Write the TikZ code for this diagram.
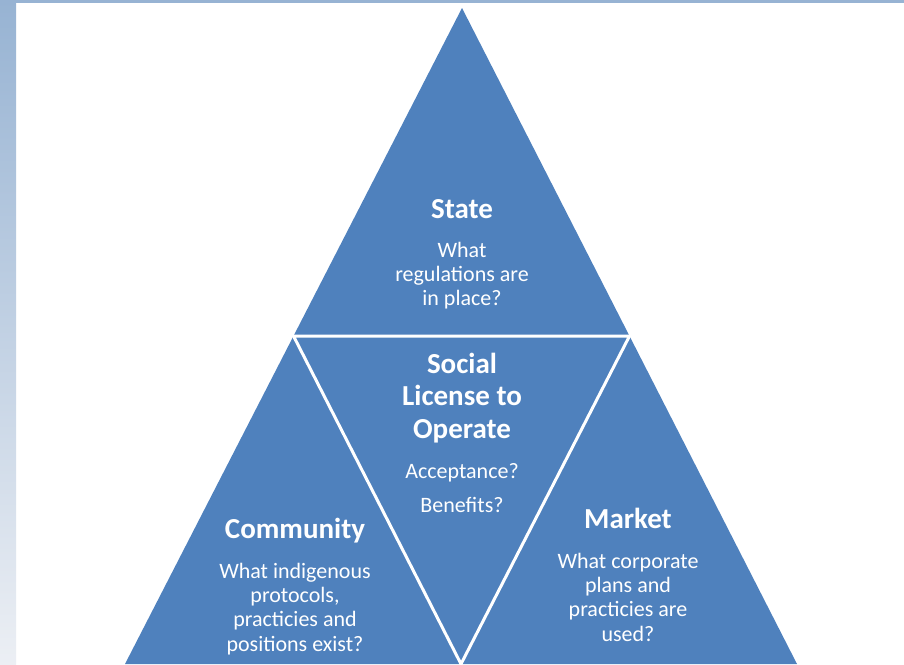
\documentclass[tikz,border=0pt]{standalone}
\usepackage{fontspec}
\setmainfont{Carlito}
\usetikzlibrary{positioning,calc}

\definecolor{slideblue}{rgb}{0.310, 0.506, 0.741}
\definecolor{framecolor}{rgb}{0.592, 0.702, 0.827}
\definecolor{framelight}{rgb}{0.925, 0.937, 0.957}

\begin{document}
\begin{tikzpicture}[x=1pt,y=-1pt,
  title/.style={text=white,font=\fontsize{29}{32.5}\selectfont\bfseries,align=center,anchor=base,inner sep=0pt},
  body/.style={text=white,font=\fontsize{22}{24.3}\selectfont,align=center,anchor=base,inner sep=0pt},
  divider/.style={draw=white,line width=3pt}]
\useasboundingbox (0,0) rectangle (904,664);
% frame of the slide
\fill[white] (0,0) rectangle (904,664);
\shade[top color=framecolor,bottom color=framelight] (0,0) rectangle (16,664);
\fill[framecolor] (0,0) rectangle (904,3);
% big triangle
\coordinate (apex) at (462,8);
\coordinate (left) at (125,664);
\coordinate (right) at (797,664);
\fill[slideblue] (apex)--(left)--(right)--cycle;
% inner triangle
\coordinate (midl) at ($(apex)!0.5!(left)$);
\coordinate (midr) at ($(apex)!0.5!(right)$);
\coordinate (midb) at ($(left)!0.5!(right)$);
\draw[divider] (midl)--(midr)--(midb)--cycle;
% labels (base = baseline of the last line)
\node[title] (state) at (462,218) {State};
\node[body] (statetext) at (462,305.6) {What\\regulations are\\in place?};
\node[title] (slo) at (462,438) {Social\\License to\\Operate};
\node[body] (accept) at (462,478) {Acceptance?};
\node[body] (benefit) at (462,512) {Benefits?};
\node[title] (community) at (295,538) {Community};
\node[body] (communitytext) at (295,651) {What indigenous\\protocols,\\practicies and\\positions exist?};
\node[title] (market) at (628,528) {Market};
\node[body] (markettext) at (628,641) {What corporate\\plans and\\practicies are\\used?};
\end{tikzpicture}
\end{document}
